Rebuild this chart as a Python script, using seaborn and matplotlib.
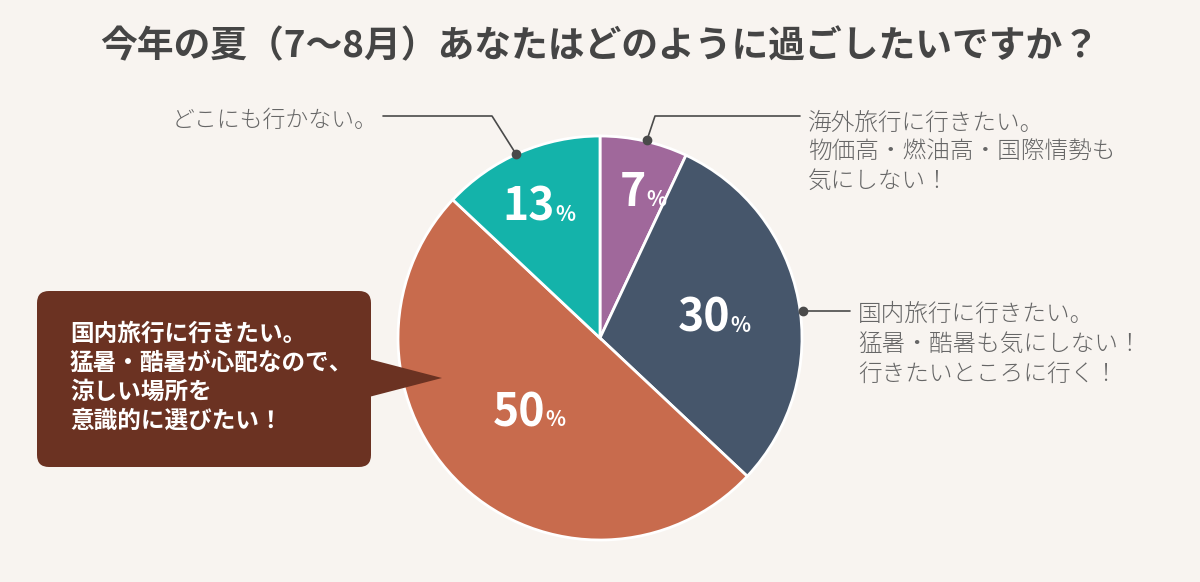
import numpy as np
import matplotlib
matplotlib.use("Agg")
import matplotlib.pyplot as plt
from matplotlib.patches import FancyBboxPatch, Polygon
import seaborn as sns

sns.set_style("white")
plt.rcParams['font.family'] = ['Noto Sans CJK JP', 'DejaVu Sans']

# ---- data ----
title = "今年の夏（7〜8月）あなたはどのように過ごしたいですか？"
categories = ["海外旅行", "国内旅行（気にしない）", "国内旅行（涼しい場所）", "どこにも行かない"]
values = [7, 30, 50, 13]
colors = ["#a0689b", "#46566b", "#c86b4d", "#14b3aa"]
label_texts = [
    "海外旅行に行きたい。\n物価高・燃油高・国際情勢も\n気にしない！",
    "国内旅行に行きたい。\n猛暑・酷暑も気にしない！\n行きたいところに行く！",
    "国内旅行に行きたい。\n猛暑・酷暑が心配なので、\n涼しい場所を\n意識的に選びたい！",
    "どこにも行かない。",
]

W, H = 1200, 582
BG = "#f8f4f0"
def Y(y):
    return H - y

fig = plt.figure(figsize=(W / 100, H / 100), dpi=100, facecolor=BG)
ax = fig.add_axes([0, 0, 1, 1])
ax.set_facecolor(BG)

cx, cy, R = 600, 338, 202
ax.pie(values, colors=colors, startangle=90, counterclock=False,
       center=(cx, Y(cy)), radius=R,
       wedgeprops=dict(edgecolor="white", linewidth=2))
ax.set_xlim(0, W)
ax.set_ylim(0, H)
ax.set_aspect("equal")
ax.axis("off")

# percentage labels
total = sum(values)
cum = np.cumsum([0] + values)
rfrac = [0.75, 0.59, 0.49, 0.72]
for i, v in enumerate(values):
    mid = 90 - 360 * (cum[i] + v / 2) / total
    r = R * rfrac[i]
    lx = cx + r * np.cos(np.radians(mid))
    ly = Y(cy) + r * np.sin(np.radians(mid))
    ax.text(lx + 13, ly - 16, f"{v}", color="white", fontsize=32, fontweight="bold",
            ha="right", va="baseline")
    ax.text(lx + 13, ly - 16, "%", color="white", fontsize=15, fontweight="bold",
            ha="left", va="baseline")

# title
ax.text(600, Y(47), title, fontsize=26.5, fontweight="bold", color="#454545",
        ha="center", va="center")

line_c = "#4a4a4a"
txt_c = "#666666"
lab_fs = 17

# どこにも行かない
ax.plot([383, 492, 516], [Y(116), Y(116), Y(154)], color=line_c, lw=1.2)
ax.plot([516], [Y(154)], marker="o", ms=6, color=line_c)
ax.text(378, Y(120), label_texts[3], fontsize=16.5, color=txt_c, ha="right", va="center",
        fontweight="light")

# 海外旅行
ax.plot([647, 655, 800], [Y(140), Y(116), Y(116)], color=line_c, lw=1.2)
ax.plot([647], [Y(140)], marker="o", ms=6, color=line_c)
ax.text(808, Y(111), label_texts[0], fontsize=lab_fs, color=txt_c, ha="left", va="top",
        linespacing=1.22, fontweight="light")

# 国内旅行 (気にしない)
ax.plot([803, 850], [Y(311), Y(311)], color=line_c, lw=1.2)
ax.plot([803], [Y(311)], marker="o", ms=6, color=line_c)
ax.text(858, Y(302), label_texts[1], fontsize=lab_fs, color=txt_c, ha="left", va="top",
        linespacing=1.25, fontweight="light")

# callout box
box_c = "#6b3222"
box = FancyBboxPatch((37, Y(467)), 334, 176,
                     boxstyle="round,pad=0,rounding_size=12",
                     facecolor=box_c, edgecolor="none")
ax.add_patch(box)
ax.add_patch(Polygon([(365, Y(358)), (442, Y(378)), (365, Y(398))],
                     closed=True, facecolor=box_c, edgecolor="none"))
ax.text(70, Y(322), label_texts[2], fontsize=17, fontweight="bold", color="white",
        ha="left", va="top", linespacing=1.26)

fig.savefig("out.png", dpi=100, facecolor=BG)
